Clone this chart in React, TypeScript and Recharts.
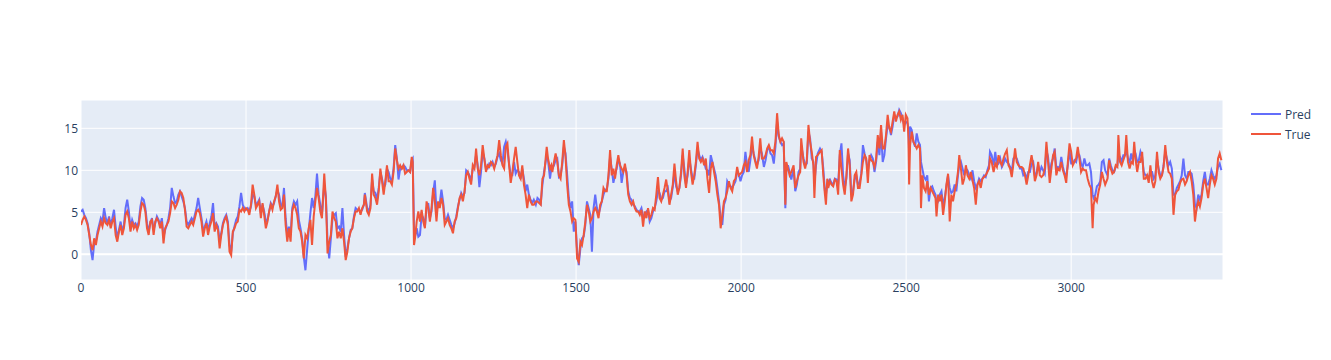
import React from "react";
import { LineChart, Line, XAxis, YAxis, CartesianGrid, Legend, ReferenceLine } from "recharts";

// segment 1
const x1 = [0,5,10,15,20,25,30,35,40,45,50,55,60,65,70,75,80,85,90,95,100,105,110,115,120,125,130,135,140,145,150,155,160,165,170,175,180,185,190,195,200,205,210,215,220,225,230,235,240,245,250,255,260,265,270,275,280,285,290,295,300,305,310,315,320,325,330,335];
const t1 = [3.5,4.1,4.5,4.1,3.5,2.3,1.1,0.5,1.9,1.1, 2.3,3.1,3.9,3.3,4.3,3.7,3.5,4.1,3.1,3.9, 4.3,2.3,1.5,2.7,3.5,2.3,3.1,4.7,5.1,4.3, 2.7,3.9,3.1,3.5,2.9,3.5,5.1,6.1,5.9,5.1, 3.1,2.3,3.9,4.1,2.3,3.9,4.3,3.9,3.1,3.9, 1.3,3.1,3.5,3.9,4.9,6.3,6.1,5.5,5.9,6.5, 7.5,7.3,6.7,5.3,3.3,3.1,3.5,3.9];
const p1 = [5.1,5.3,4.7,4.3,3.7,2.5,0.5,-0.7,1.3,1.5, 2.7,3.5,4.3,3.9,5.5,4.3,3.7,4.5,3.5,4.3, 5.3,3.3,1.9,2.9,3.9,2.7,3.5,5.5,6.5,5.1, 3.1,4.1,3.5,3.7,3.3,3.9,5.7,6.7,6.5,5.5, 3.7,2.7,3.7,4.3,2.9,3.7,4.5,4.1,3.5,4.3, 2.1,2.9,3.5,4.3,5.5,7.9,6.9,6.1,6.3,7.1, 7.5,6.9,6.3,5.5,3.9,3.5,3.9,4.3];

// segment 2
const x2 = [340,345,350,355,360,365,370,375,380,385,390,395,400,405,410,415,420,425,430,435,440,445,450,455,460,465,470,475,480,485,490,495,500,505,510,515,520,525,530,535,540,545,550,555,560,565,570,575,580,585,590,595,600,605,610,615,620,625,630,635,640,645,650,655,660,665,670,675,680];
const t2 = [3.5,4.3,5.1,5.3,4.9,3.9,2.1,3.1,3.7,2.3, 3.3,3.9,4.9,2.7,3.5,2.9,0.7,2.3,3.5,4.1, 4.5,3.5,0.3,-0.1,2.7,3.1,3.7,3.9,5.3,5.1, 5.5,5.1,5.5,5.3,4.7,5.9,8.3,7.1,5.5,5.9, 6.3,4.3,6.1,4.7,3.1,3.9,5.1,5.9,5.3,6.3, 6.9,8.3,6.3,5.3,5.5,7.1,3.5,1.5,3.1,1.5, 5.1,5.9,5.5,4.7,3.1,2.7,1.5,-0.5,2.3];
const p2 = [3.9,4.7,5.5,6.7,5.5,4.3,2.9,3.3,3.9,2.9, 3.7,4.5,6.1,3.3,3.7,3.3,1.5,2.5,3.7,4.3, 4.7,3.9,1.1,0.3,2.5,3.3,4.1,4.5,5.7,7.3, 5.9,5.5,5.3,5.5,5.1,5.7,7.1,6.9,5.9,6.1, 6.5,4.9,5.9,5.1,3.9,4.1,5.1,6.1,5.7,6.1, 6.9,7.7,7.1,5.9,5.7,7.9,4.3,2.3,3.3,2.3, 5.5,6.3,5.9,6.3,4.1,3.1,1.9,-0.3,-1.9];

// segment 3
const x3 = [685,690,695,700,705,710,715,720,725,730, 737,742,747,752,757,762,767,772,777,782, 787,792,797,802,807,812,817,822,827,832, 837,842,847,852,857,860,867,872,877,882, 887,892,897,902,907,912,917,922,927,932, 937,942,947,952,957,962,967,972,977,982, 987,992,997,1002,1005,1009,1012,1017,1022];
const t3 = [1.9,3.1,4.1,1.1,4.5,6.3,7.9,6.7,5.1,4.3, 9.6,6.5,0.1,1.5,2.3,5.1,4.3,3.9,1.9,2.7, 1.9,3.1,1.5,-0.7,0.3,1.9,2.7,3.1,4.3,5.1, 5.1,5.5,4.7,5.5,5.9,7.1,5.1,4.7,5.5,9.6, 7.1,6.7,5.9,7.5,10.2,8.7,7.1,8.7,10.6,8.7, 8.7,8.3,9.8,12.6,11.2,10.2,10.6,10.2,10.6,9.6, 9.8,10.0,9.8,11.6,11.0,1.1,1.9,3.9,5.1];
const p3 = [0.5,2.9,4.9,6.7,5.5,6.9,9.6,7.1,5.9,4.7, 8.3,6.9,1.5,-0.5,1.9,4.3,4.7,4.9,3.1,3.3, 2.7,5.5,2.3,-0.3,0.7,1.9,2.9,3.1,4.5,5.5, 5.3,5.3,5.1,5.3,5.9,7.3,5.5,5.1,5.9,8.9, 7.5,7.3,6.5,7.9,9.8,9.0,7.9,8.3,10.2,9.8, 9.0,8.7,10.2,13.0,11.4,8.9,10.2,10.2,10.6,10.4, 10.0,10.0,9.8,11.2,11.4,3.1,2.1,3.1,2.1];

// segment 4
const x4 = [1027,1032,1037,1042,1047,1052,1057,1062,1067,1072, 1077,1082,1087,1092,1097,1102,1107,1112,1117,1122, 1127,1132,1137,1142,1147,1152,1157,1162,1167,1172, 1177,1182,1187,1192,1197,1202,1207,1212,1217,1222, 1227,1232,1237,1242,1247,1252,1257,1262,1267,1272, 1277,1282,1287,1292,1297,1302,1307,1312,1317,1322, 1327,1332,1337,1342,1347,1352,1357,1362,1367,1372];
const t4 = [3.9,5.3,3.9,3.1,6.3,5.5,3.9,5.5,7.9,6.3, 3.9,6.3,5.5,6.7,5.9,3.5,3.9,4.3,3.5,3.1, 2.5,3.9,4.3,5.5,6.7,7.1,6.3,7.5,9.4,9.8, 9.0,8.3,10.6,10.2,12.6,10.2,9.4,10.6,13.0,11.4, 9.8,10.6,10.4,11.0,10.8,10.2,11.0,11.8,13.6,11.8, 10.6,10.2,12.8,13.2,10.6,8.5,9.8,11.4,12.8,11.0, 9.4,9.0,10.6,8.3,7.1,5.5,7.1,6.3,5.9,5.9];
const p4 = [2.3,4.7,4.3,3.3,5.5,6.1,4.3,5.1,7.3,8.8, 5.1,5.9,6.1,7.7,6.3,4.3,4.1,4.7,4.1,3.5, 3.1,3.7,4.5,5.7,6.5,7.3,6.9,7.3,10.0,9.8, 9.4,8.7,10.2,10.4,11.8,10.6,8.0,9.8,12.2,11.4, 10.2,10.2,10.8,10.6,11.0,10.4,10.8,11.6,12.0,11.2, 10.8,12.8,13.4,12.4,10.8,9.4,9.4,11.0,9.6,10.0, 9.8,9.0,10.2,9.0,7.5,8.3,7.1,6.5,6.1,6.5];

// segment 5
const x5 = [1378,1383,1388,1393,1398,1403,1411,1415,1421,1425,1428, 1433,1438,1443,1448,1453,1458,1463,1468,1473,1478, 1483,1488,1493,1498,1503,1508,1513,1518,1523,1528, 1533,1538,1543,1548,1553,1558,1563,1568,1573,1578, 1583,1588,1593,1598,1603,1608,1613,1618,1623,1628, 1633,1638,1643,1648,1653,1658,1663,1668,1673,1678, 1683,1688,1693,1698,1703,1708,1713,1718];
const t5 = [6.3,6.3,6.1,5.9,9.0,9.4,12.8,11.4,10.2,10.6,9.8, 11.0,12.0,11.0,9.4,9.0,11.0,13.6,11.6,8.3,5.9, 5.1,3.9,4.3,4.1,-0.5,-0.9,1.5,1.1,2.3,3.9, 5.9,5.1,3.9,4.3,5.1,5.5,5.1,4.3,5.9,6.3, 7.9,7.5,7.5,9.4,12.4,9.4,10.2,9.0,10.6,11.8, 10.6,10.2,9.8,10.8,9.4,7.1,6.3,5.9,6.3,5.5, 5.1,5.1,4.7,5.3,3.3,5.1,4.3,5.5];
const p5 = [5.9,6.7,6.5,6.1,8.3,9.8,11.8,11.2,9.0,10.2,10.2, 10.6,11.2,11.4,9.2,9.4,10.6,12.8,12.0,9.4,6.7, 5.5,6.3,2.7,3.9,0.5,-1.3,0.7,1.9,2.1,3.5, 6.3,5.5,4.7,0.3,5.5,7.1,5.5,4.7,5.5,6.3, 7.1,7.7,7.7,9.0,11.6,10.2,8.5,9.4,10.2,11.2, 10.8,8.5,9.8,10.4,9.8,7.5,6.7,6.5,5.9,5.7, 5.3,5.1,5.1,5.5,4.5,4.7,5.1,5.3];

// segment 6
const x6 = [1723,1728,1733,1738,1743,1748,1753,1758,1763,1768, 1773,1778,1783,1788,1793,1798,1803,1808,1813,1818, 1823,1828,1833,1838,1843,1848,1853,1858,1863,1868, 1873,1878,1883,1888,1893,1898,1903,1908,1913,1918, 1923,1928,1933,1938,1943,1948,1953,1958,1963,1968, 1973,1978,1983,1988,1993,1998,2003,2008,2013,2018, 2023,2028,2033,2038,2043,2048,2053,2058,2063];
const t6 = [4.3,4.7,5.5,5.3,7.1,9.2,6.7,6.3,7.1,7.9, 8.9,7.5,5.9,7.1,8.3,10.8,8.7,7.1,7.9,9.8, 12.6,9.4,7.9,9.8,12.4,9.8,8.3,9.4,11.0,13.4, 11.4,11.0,11.4,10.6,11.4,9.0,7.3,10.2,11.0,9.8, 8.7,7.1,5.9,3.1,4.7,6.3,6.7,7.5,8.7,7.9, 7.5,8.7,9.0,10.4,9.4,9.6,9.8,10.6,11.0,9.8, 11.2,11.8,14.0,11.8,11.0,10.2,11.6,13.8,11.4];
const p6 = [3.9,4.3,5.1,5.5,6.3,7.5,7.3,6.5,6.7,7.5, 7.5,7.9,6.3,6.7,8.0,9.8,8.1,7.5,7.9,9.4, 11.8,10.2,8.3,9.4,11.4,10.2,9.0,9.0,10.6,12.6, 11.8,11.2,11.6,11.0,10.2,10.0,9.4,11.8,11.0,10.2, 9.4,7.9,6.3,4.3,3.5,5.9,6.5,8.7,8.3,8.1, 7.9,8.3,8.7,9.8,9.6,8.7,9.4,9.8,12.2,10.6, 9.8,11.2,13.0,12.0,11.2,10.6,11.2,12.6,12.0];

// segment 7
const x7 = [2069,2074,2079,2084,2089,2094,2099,2104,2109,2114,2119,2124,2129,2134, 2137,2142,2147,2152, 2159,2164,2169,2174,2179, 2182, 2189,2194,2199,2204,2209,2214,2219, 2222, 2227,2232, 2239,2244,2249,2254, 2257, 2261, 2264,2269,2274,2279,2284,2289,2294,2299,2304,2309,2314,2319,2324,2329,2334,2339,2344,2349,2354,2359,2364,2369,2374,2379,2384,2389,2394,2399,2404,2409,2414];
const t7 = [11.4,11.8,12.6,13.0,12.4,12.4,12.0,13.4,16.8,14.2,13.4,13.8,13.4,5.9, 11.0,10.2,9.4,9.8, 10.6,7.9,8.7,9.4,9.8, 13.8, 11.0,10.2,11.2,15.4,13.4,12.2,10.6, 6.7, 11.6,11.8, 12.2,12.4,9.4,7.1, 5.9, 9.0, 7.9,8.7,8.3,8.1,8.9,8.7,7.1,12.4,10.2,8.3,7.1,9.4,12.6,10.6,6.3,7.1,9.4,9.8,7.9,7.9,9.4,11.0,11.8,11.4,8.5,11.8,11.2,11.0,10.4,11.4,14.2];
const p7 = [10.4,11.2,12.4,12.8,12.0,11.8,10.8,12.8,15.8,14.0,13.4,13.0,13.2,5.5, 9.8,10.6,9.8,8.9, 10.2,7.5,8.3,9.8,10.2, 13.0, 11.4,10.6,10.8,14.6,13.8,11.4,11.0, 8.5, 10.6,12.0, 12.6,12.2,10.2,7.5, 7.1, 8.3, 8.7,8.9,8.5,8.3,9.0,8.9,8.3,11.8,13.2,9.4,7.9,9.0,12.0,11.2,7.1,7.5,8.9,9.4,8.3,8.5,9.6,13.0,12.0,11.2,10.0,11.2,11.8,11.4,9.8,11.0,13.4];

// segment 8
const x8 = [2419,2424,2429,2434,2439,2444,2449,2454,2459,2464,2469,2474,2479,2484,2489,2494,2499,2504, 2507,2509,2512,2517,2522,2527,2532,2537,2542, 2545, 2549,2554,2559,2564,2569,2574,2579,2584,2589, 2592, 2597,2602,2607,2612,2617,2622,2627,2632,2637,2642,2647,2652,2657, 2661,2666,2671,2676,2681,2686,2691,2696,2701,2706,2711,2716,2721,2726,2731,2736,2741,2746,2751, 2754,2759];
const t8 = [12.6,15.4,12.6,12.6,14.2,16.6,15.0,14.6,15.8,17.0,15.8,16.6,17.0,16.0,16.6,14.6,16.6,16.2, 13.8,8.3,13.0,14.6,13.4,13.0,12.6,13.0,12.6, 5.5, 9.4,7.9,7.5,8.7,7.1,7.9,7.5,7.1,6.7, 4.5, 7.1,6.3,7.1,4.7,6.3,8.3,9.6,3.9,7.1,6.3,7.5,8.3,9.8, 11.8,10.2,8.3,9.0,10.6,9.4,9.0,9.8,8.8,7.9,5.9,8.3,8.7,7.9,9.0,9.2,9.4,9.8,10.2, 11.4,11.0];
const p8 = [11.8,14.6,11.0,11.8,13.8,15.4,15.2,14.2,15.2,16.6,16.2,16.4,17.2,16.8,16.2,15.4,15.8,15.6, 15.0,12.0,15.2,14.8,13.4,12.8,14.4,13.4,13.0, 11.0, 10.2,9.2,8.9,9.4,6.3,7.9,8.1,7.5,7.1, 5.9, 6.3,7.1,7.5,5.9,6.7,8.1,9.4,7.9,7.3,7.5,8.3,7.5,9.4, 10.6,11.0,10.2,9.4,10.2,10.0,9.4,9.0,10.0,8.7,7.9,8.3,9.0,8.7,9.0,9.4,9.2,10.0,10.6, 12.2,11.8];

// segment 9
const x9 = [2765,2770,2775,2780,2785,2790,2795,2800,2805,2810, 2815,2820,2825,2830,2835,2840,2845,2850,2855,2860, 2865,2870,2875,2880,2885,2890,2895,2900,2905,2910, 2915,2920,2925,2930,2935,2940,2945,2950,2955,2960, 2965,2970,2975,2980,2985,2990,2995,3000,3005,3010, 3015,3020,3025,3030,3035,3040,3045,3050,3055,3060, 3065,3068,3073,3078,3083,3088,3093,3098,3103];
const t9 = [9.8,10.8,10.4,11.8,11.0,10.6,11.4,12.0,12.4,10.6, 10.2,9.2,10.8,12.6,11.0,10.6,10.4,10.4,10.2,9.4, 8.3,9.4,10.6,11.8,10.6,8.7,9.4,11.0,9.4,9.2, 9.4,10.2,13.4,11.0,8.5,10.2,11.8,12.2,9.4,10.2, 10.0,11.0,10.0,9.4,8.5,11.0,13.2,12.2,10.6,11.0, 11.4,12.8,11.4,9.8,10.2,10.0,10.0,9.0,8.3,7.9, 3.1,5.9,6.7,6.3,7.5,8.3,9.8,9.0,8.3];
const p9 = [10.6,12.2,10.6,10.8,11.4,10.4,10.8,11.4,11.0,10.8, 10.4,9.8,11.4,11.6,11.4,10.8,10.2,10.2,9.4,9.6, 9.0,9.8,9.8,10.8,11.0,9.4,9.6,10.6,9.8,10.4, 10.0,9.6,12.4,11.6,9.4,10.8,11.4,12.6,10.2,10.4, 10.2,11.6,10.4,9.6,9.4,10.6,12.4,10.8,10.8,11.2, 11.0,12.0,11.8,10.8,10.4,11.4,10.6,10.6,10.8,9.8, 7.1,6.7,7.1,8.1,8.3,8.7,11.0,11.2,10.0];

// segment 10
const x10 = [3110,3115,3120,3125,3130,3135,3140, 3143,3148,3153,3158,3163, 3167,3172,3177,3182,3187, 3191,3195, 3200,3205,3210,3215,3220,3225,3230,3235,3240,3245, 3250,3255,3260,3265,3270,3275,3280,3285,3290,3295, 3300,3305,3310,3315,3320,3325,3330,3335,3340,3345, 3350,3355,3360,3365,3370,3375,3380,3385,3390,3395, 3400,3405,3410,3415,3420,3425,3430,3435,3440,3445, 3450,3455];
const t10 = [9.0,11.2,10.2,9.6,9.8,10.6,10.4, 14.2,11.0,10.6,11.2,11.8, 14.2,11.0,10.2,11.0,10.8, 13.4,11.4, 9.8,11.0,11.0,12.2,9.0,9.0,9.4,8.5,10.6,8.7, 7.9,8.7,12.2,9.8,9.0,9.4,10.4,13.0,11.0,9.8, 9.6,9.0,4.7,7.1,7.5,7.7,8.5,8.9,9.0,8.3, 8.7,9.4,9.8,8.7,7.1,3.9,5.5,6.3,5.7,6.7, 8.3,9.0,7.9,6.7,8.3,9.4,9.0,8.3,9.0,11.4, 12.0,11.2];
const p10 = [9.4,11.4,10.6,10.0,9.8,10.4,10.6, 11.8,11.6,11.0,11.8,11.8, 12.4,11.4,11.0,12.0,11.0, 12.4,12.0, 11.0,11.2,12.2,11.6,9.8,9.4,9.4,9.0,9.8,9.8, 9.0,9.4,11.4,10.2,9.4,9.4,10.6,12.2,11.4,10.6, 11.0,10.2,7.1,7.1,7.9,8.3,8.7,9.4,11.4,9.4, 9.0,9.8,9.8,9.6,8.3,5.9,5.5,7.1,6.5,7.1, 8.7,9.8,8.3,8.3,9.0,10.0,9.4,9.0,9.4,10.4, 10.8,10.0];

const xTicks = [0, 500, 1000, 1500, 2000, 2500, 3000];
const yTicks = [0, 5, 10, 15];

const xs = [...x1, ...x2, ...x3, ...x4, ...x5, ...x6, ...x7, ...x8, ...x9, ...x10];
const trueVals = [...t1, ...t2, ...t3, ...t4, ...t5, ...t6, ...t7, ...t8, ...t9, ...t10];
const predVals = [...p1, ...p2, ...p3, ...p4, ...p5, ...p6, ...p7, ...p8, ...p9, ...p10];

const data = xs.map((x, i) => ({ x, pred: predVals[i], actual: trueVals[i] }));

const FONT = '"Open Sans", verdana, arial, sans-serif';
const TEXT = "#2a3f5f";

const LegendContent = (props: any) => {
  const payload = props.payload || [];
  return (
    <div style={{ fontFamily: FONT, fontSize: 12, color: TEXT }}>
      {payload.map((e: any) => (
        <div key={e.value} style={{ display: "flex", alignItems: "center", height: 20 }}>
          <svg width={35} height={20}>
            <line x1={1} x2={31} y1={10} y2={10} stroke={e.color} strokeWidth={2} />
          </svg>
          <span>{e.value}</span>
        </div>
      ))}
    </div>
  );
};

export default function App() {
  return (
    <div style={{ position: "absolute", left: 0, top: 0, width: 1331, height: 360, background: "#fff" }}>
      <LineChart width={1331} height={360} data={data} margin={{ top: 100, right: 28, bottom: 50, left: 41 }}>
        <CartesianGrid fill="#E5ECF6" stroke="#fff" strokeWidth={1} />
        <XAxis
          dataKey="x"
          type="number"
          domain={[0, 3460]}
          ticks={xTicks}
          allowDataOverflow
          axisLine={false}
          tickLine={false}
          tickSize={0}
          tickMargin={3}
          height={30}
          tick={{ fill: TEXT, fontSize: 12, fontFamily: FONT }}
        />
        <YAxis
          type="number"
          domain={[-3.06, 18.37]}
          ticks={yTicks}
          allowDataOverflow
          axisLine={false}
          tickLine={false}
          tickSize={0}
          tickMargin={3}
          width={40}
          tick={{ fill: TEXT, fontSize: 12, fontFamily: FONT }}
        />
        <ReferenceLine y={0} stroke="#fff" strokeWidth={2} />
        <Legend
          layout="vertical"
          align="right"
          verticalAlign="top"
          content={<LegendContent />}
          wrapperStyle={{ left: 1250, top: 104, width: 80 }}
        />
        <Line type="linear" dataKey="pred" name="Pred" stroke="#636efa" strokeWidth={2} dot={false} isAnimationActive={false} />
        <Line type="linear" dataKey="actual" name="True" stroke="#EF553B" strokeWidth={2} dot={false} isAnimationActive={false} />
      </LineChart>
    </div>
  );
}
